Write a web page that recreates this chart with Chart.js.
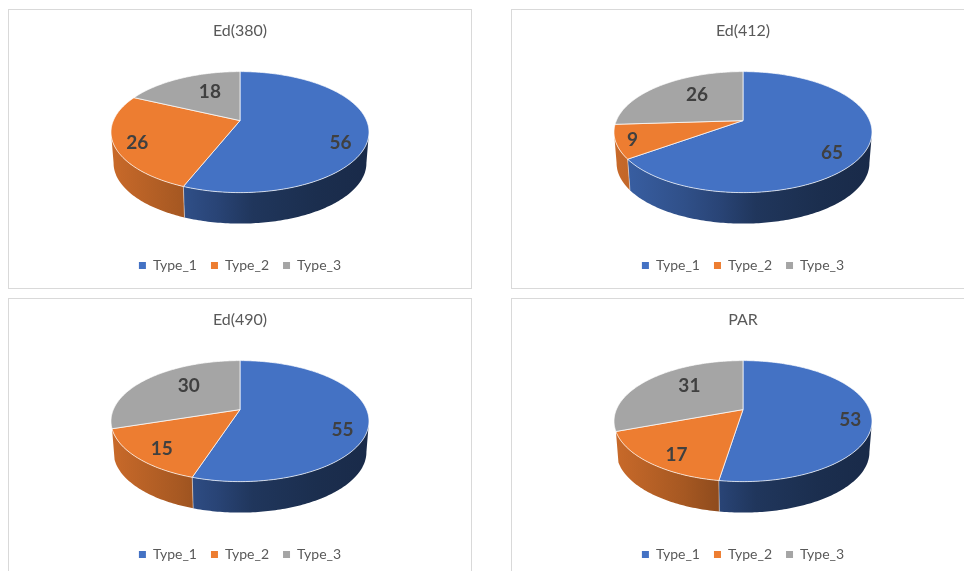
<!DOCTYPE html>
<html>
<head>
<meta charset="utf-8">
<title>Type shares</title>
<script src="https://cdn.jsdelivr.net/npm/chart.js@4"></script>
<style>
    html, body { margin: 0; padding: 0; background: #fff; overflow: hidden; }
    body { width: 964px; height: 571px; position: relative; }
    .panel { position: absolute; width: 464px; height: 280px; box-sizing: border-box; border: 1px solid #d9d9d9; background: #fff; }
    .panel canvas { display: block; }
</style>
</head>
<body>
<div class="panel" style="left:8px;top:9px"><canvas id="c0" width="462" height="278"></canvas></div>
<div class="panel" style="left:511px;top:9px"><canvas id="c1" width="462" height="278"></canvas></div>
<div class="panel" style="left:8px;top:298px"><canvas id="c2" width="462" height="278"></canvas></div>
<div class="panel" style="left:511px;top:298px"><canvas id="c3" width="462" height="278"></canvas></div>
<script>
var types = ['Type_1', 'Type_2', 'Type_3'];
var titles = ['Ed(380)', 'Ed(412)', 'Ed(490)', 'PAR'];
var ed380 = [56, 26, 18];
var ed412 = [65, 9, 26];
var ed490 = [55, 15, 30];
var par = [53, 17, 31];
var seriesList = [ed380, ed412, ed490, par];

var topColors = [[68, 114, 196], [237, 125, 49], [165, 165, 165]];

// label shift from the slice midpoint, one row per chart
var labelShift = [
    [[-2, 13], [-3, 4], [18, 6]],
    [[-8, 10], [-10, 3], [21, 3]],
    [[0, 13], [2, 2], [24, 1]],
    [[5, 7], [6, 4], [23, 1]]
];

// tilted disc: the centre of the circle sits above the centre of the ellipse
var radiusX = 129;
var radiusY = 60.5;
var apexLift = 11.5;
var depth = 31;
var bottomShrink = 0.98;
var pieDrop = -15.25;
var k = -apexLift / radiusY;
var flatX = radiusX * Math.sqrt(1 - k * k);

function project(cx, cy, angle, f) {
    var a = f * Math.cos(angle);
    var b = f * Math.sin(angle);
    var d = 1 + k * b;
    return { x: cx + flatX * a / d, y: cy + (radiusY * b - apexLift) / d };
}

function rgb(c, s) {
    return 'rgb(' + Math.round(c[0] * s) + ',' + Math.round(c[1] * s) + ',' + Math.round(c[2] * s) + ')';
}

function wallGradient(ctx, cx, color) {
    var g = ctx.createLinearGradient(cx - radiusX, 0, cx + radiusX, 0);
    g.addColorStop(0, rgb(color, 0.85));
    g.addColorStop(0.27, rgb(color, 0.70));
    g.addColorStop(0.41, rgb(color, 0.60));
    g.addColorStop(0.55, rgb(color, 0.47));
    g.addColorStop(0.8, rgb(color, 0.40));
    g.addColorStop(1, rgb(color, 0.37));
    return g;
}

function drawWall(ctx, cx, cy, start, end, color) {
    var from = Math.max(start, Math.asin(-k));
    var to = Math.min(end, Math.PI - Math.asin(-k));
    if (to <= from) return;
    var steps = Math.ceil((to - from) * 60);
    var i, p;
    ctx.beginPath();
    for (i = 0; i <= steps; i++) {
        p = project(cx, cy, from + (to - from) * i / steps, 1);
        if (i == 0) ctx.moveTo(p.x, p.y); else ctx.lineTo(p.x, p.y);
    }
    for (i = steps; i >= 0; i--) {
        p = project(cx, cy, from + (to - from) * i / steps, 1);
        ctx.lineTo(cx + (p.x - cx) * bottomShrink, p.y + depth);
    }
    ctx.closePath();
    ctx.fillStyle = wallGradient(ctx, cx, color);
    ctx.fill();
    // seam where two slices meet on the side
    if (from == start) {
        p = project(cx, cy, from, 1);
        ctx.beginPath();
        ctx.moveTo(p.x, p.y);
        ctx.lineTo(cx + (p.x - cx) * bottomShrink, p.y + depth);
        ctx.strokeStyle = 'rgba(255,255,255,0.45)';
        ctx.lineWidth = 1;
        ctx.stroke();
    }
}

function drawTop(ctx, cx, cy, start, end, color) {
    var steps = Math.ceil((end - start) * 60);
    var apex = project(cx, cy, 0, 0);
    ctx.beginPath();
    ctx.moveTo(apex.x, apex.y);
    for (var i = 0; i <= steps; i++) {
        var p = project(cx, cy, start + (end - start) * i / steps, 1);
        ctx.lineTo(p.x, p.y);
    }
    ctx.closePath();
    ctx.fillStyle = rgb(color, 1);
    ctx.fill();
    ctx.strokeStyle = 'rgba(255,255,255,0.7)';
    ctx.lineWidth = 1;
    ctx.stroke();
}

var tiltedPie = {
    id: 'tiltedPie',
    beforeDatasetsDraw: function (chart, args, opts) {
        var ctx = chart.ctx;
        var arcs = chart.getDatasetMeta(0).data;
        var cx = arcs[0].x;
        var cy = arcs[0].y + pieDrop;
        var values = chart.data.datasets[0].data;
        ctx.save();
        arcs.forEach(function (el, i) {
            // the last slice sits at the back, its side never shows
            if (i < arcs.length - 1) drawWall(ctx, cx, cy, el.startAngle, el.endAngle, topColors[i]);
        });
        arcs.forEach(function (el, i) {
            drawTop(ctx, cx, cy, el.startAngle, el.endAngle, topColors[i]);
        });
        ctx.font = 'bold 19px Lato';
        ctx.fillStyle = '#404040';
        ctx.textAlign = 'center';
        ctx.textBaseline = 'middle';
        arcs.forEach(function (el, i) {
            var mid = project(cx, cy, (el.startAngle + el.endAngle) / 2, 0.8);
            var shift = labelShift[opts.index][i];
            ctx.fillText(values[i], mid.x + shift[0], mid.y + shift[1]);
        });
        ctx.restore();
        return false;
    }
};

seriesList.forEach(function (values, n) {
    new Chart(document.getElementById('c' + n), {
        type: 'pie',
        data: {
            labels: types,
            datasets: [{
                data: values,
                radius: radiusX,
                borderWidth: 0,
                backgroundColor: topColors.map(function (c) { return rgb(c, 1); })
            }]
        },
        options: {
            responsive: false,
            animation: false,
            layout: { padding: { bottom: 5.5 } },
            plugins: {
                tiltedPie: { index: n },
                tooltip: { enabled: false },
                title: {
                    display: true,
                    text: titles[n],
                    color: '#595959',
                    font: { family: 'Lato', size: 16, weight: 'normal' },
                    padding: { top: 11, bottom: 10 }
                },
                legend: {
                    position: 'bottom',
                    labels: {
                        boxWidth: 7,
                        boxHeight: 7,
                        padding: 14,
                        color: '#595959',
                        font: { family: 'Lato', size: 14 }
                    }
                }
            }
        },
        plugins: [tiltedPie]
    });
});
</script>
</body>
</html>
